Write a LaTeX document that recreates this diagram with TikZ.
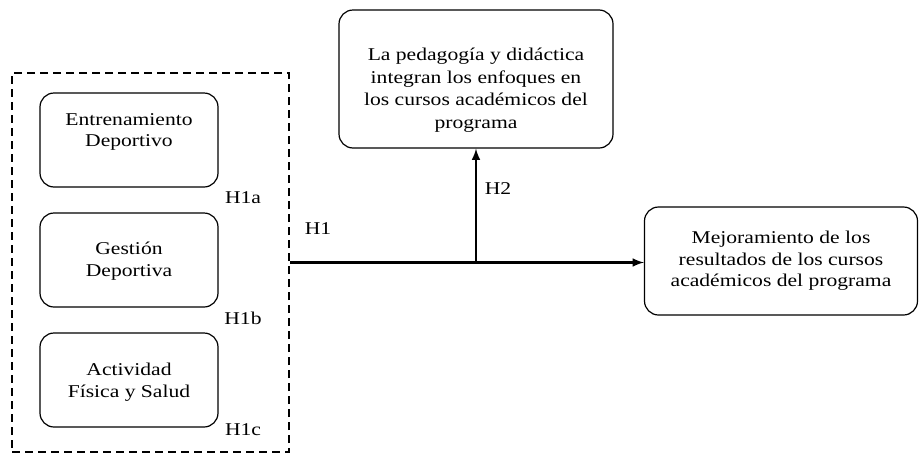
\documentclass[tikz,border=0pt]{standalone}
\usepackage{fontspec}
\setmainfont[FakeStretch=1.2]{Liberation Serif}
\usepackage{tikz}
\usetikzlibrary{positioning}

\begin{document}
\begin{tikzpicture}[x=1pt,y=-1pt,
  caja/.style={draw,rounded corners=14pt,line width=1.2pt},
  texto/.style={align=center,font=\fontsize{18}{21.5}\selectfont},
  etiqueta/.style={font=\fontsize{18}{20}\selectfont},
  flecha/.style={line width=2.8pt,->,>=latex}]
\useasboundingbox (0,0) rectangle (921,453);
\node[draw,line width=2.8pt,dash pattern=on 8pt off 5pt,
  minimum width=277pt,minimum height=379pt] (grupo) at (150.5,262.5) {};
% cajas
\node[caja,minimum width=178pt,minimum height=94pt] (entren) at (129,140) {};
\node[caja,minimum width=178pt,minimum height=94pt] (gestion) at (129,260) {};
\node[caja,minimum width=178pt,minimum height=94pt] (activ) at (129,380) {};
\node[caja,minimum width=274pt,minimum height=138pt] (pedag) at (476,79) {};
\node[caja,minimum width=273pt,minimum height=108pt] (mejora) at (781,261) {};
% textos
\node[texto] (tentren) at (129,132) {Entrenamiento\\Deportivo};
\node[texto] (tgestion) at (129,261) {Gestión\\Deportiva};
\node[texto] (tactiv) at (129,382) {Actividad\\Física y Salud};
\node[texto,font=\fontsize{18}{22.5}\selectfont] (tpedag) at (476,90) {La pedagogía y didáctica\\integran los enfoques en\\los cursos académicos del\\programa};
\node[texto] (tmejora) at (781,261) {Mejoramiento de los\\resultados de los cursos\\académicos del programa};
\node[etiqueta] (hia) at (243,198) {H1a};
\node[etiqueta] (hib) at (243,318) {H1b};
\node[etiqueta] (hic) at (243,430) {H1c};
\node[etiqueta] (hi) at (318,229) {H1};
\node[etiqueta] (hii) at (498,189) {H2};
\coordinate (union) at (pedag.south |- grupo.east);
\draw[flecha] (grupo.east) -- (grupo.east -| mejora.west);
\draw[flecha] (union) -- (pedag.south);
\end{tikzpicture}
\end{document}
